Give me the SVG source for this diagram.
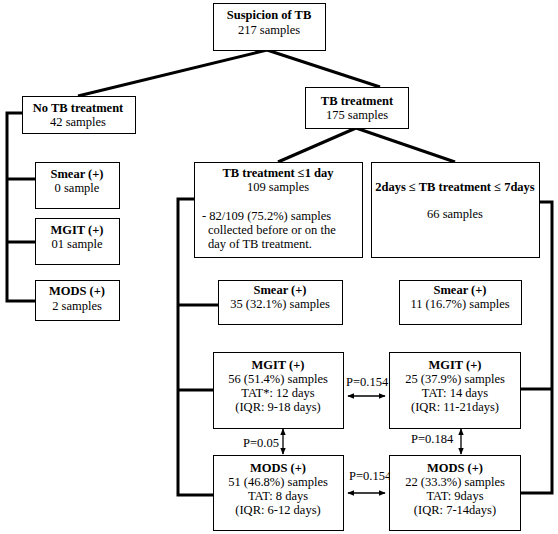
<svg xmlns="http://www.w3.org/2000/svg" width="558" height="534" viewBox="0 0 558 534" font-family="'Liberation Serif', 'Times New Roman', serif" font-size="12.5">
<defs>
<style>
.box{fill:#fff;stroke:#000;stroke-width:1}
text{font-family:'Liberation Serif','Times New Roman',serif;font-size:12.5px;fill:#000}
.c{text-anchor:middle}
.b{font-weight:bold}
.conn{stroke:#000;stroke-width:3;fill:none}
.arr{stroke:#000;stroke-width:1.3;fill:none}
</style>
<marker id="ah" viewBox="0 0 10 10" refX="9" refY="5" markerWidth="7" markerHeight="7" orient="auto-start-reverse" markerUnits="userSpaceOnUse">
<path d="M0,1 L10,5 L0,9 Z" fill="#000"/>
</marker>
</defs>
<rect width="558" height="534" fill="#fff"/>
<g id="connectors">
<path class="conn" d="M267,50 L78,96"/>
<path class="conn" d="M267,50 L380,87"/>
<path class="conn" d="M356,128 L278,162"/>
<path class="conn" d="M356,128 L455,162"/>
<path class="conn" d="M22,113 H7 V301 H35"/>
<path class="conn" d="M7,179 H35"/>
<path class="conn" d="M7,242 H35"/>
<path class="conn" d="M194,199 H178 V495 H213"/>
<path class="conn" d="M178,305 H218"/>
<path class="conn" d="M178,390 H213"/>
<path class="conn" d="M539,202 H552 V493 H520"/>
<path class="conn" d="M552,389 H520"/>
<path class="arr" d="M348,396 H385" marker-start="url(#ah)" marker-end="url(#ah)"/>
<path class="arr" d="M348,493 H385" marker-start="url(#ah)" marker-end="url(#ah)"/>
<path class="arr" d="M283,429 V454" marker-start="url(#ah)" marker-end="url(#ah)"/>
<path class="arr" d="M461,429 V454" marker-start="url(#ah)" marker-end="url(#ah)"/>
<text x="346" y="386">P=0.154</text>
<text x="349" y="480">P=0.154</text>
<text x="243" y="447">P=0.05</text>
<text x="411" y="443">P=0.184</text>
</g>
<g id="suspicion">
<rect class="box" x="213.5" y="3.5" width="112" height="47"/>
<text class="c b" x="269" y="19">Suspicion of TB</text>
<text class="c" x="269" y="34">217 samples</text>
</g>
<g id="tb-treatment">
<rect class="box" x="305.5" y="87.5" width="103" height="41"/>
<text class="c b" x="357" y="105">TB treatment</text>
<text class="c" x="357" y="119">175 samples</text>
</g>
<g id="no-tb-treatment">
<rect class="box" x="22.5" y="96.5" width="113" height="37"/>
<text class="c b" x="78" y="112">No TB treatment</text>
<text class="c" x="78" y="126">42 samples</text>
</g>
<g id="left-smear">
<rect class="box" x="35.5" y="162.5" width="84" height="46"/>
<text class="c b" x="77" y="178">Smear (+)</text>
<text class="c" x="77" y="192">0 sample</text>
</g>
<g id="left-mgit">
<rect class="box" x="35.5" y="218.5" width="84" height="46"/>
<text class="c b" x="77" y="234">MGIT (+)</text>
<text class="c" x="77" y="248">01 sample</text>
</g>
<g id="left-mods">
<rect class="box" x="35.5" y="280.5" width="84" height="40"/>
<text class="c b" x="77" y="295">MODS (+)</text>
<text class="c" x="77" y="310">2 samples</text>
</g>
<g id="tb-le1">
<rect class="box" x="194.5" y="162.5" width="168" height="95"/>
<text class="c b" x="278" y="177">TB treatment ≤1 day</text>
<text class="c" x="278" y="191">109 samples</text>
<text x="202" y="220">- 82/109 (75.2%) samples</text>
<text x="208" y="234">collected before or on the</text>
<text x="208" y="248">day of TB treatment.</text>
</g>
<g id="tb-2to7">
<rect class="box" x="371.5" y="162.5" width="168" height="95"/>
<text class="c b" x="455" y="191">2days ≤ TB treatment ≤ 7days</text>
<text class="c" x="455" y="218">66 samples</text>
</g>
<g id="smear-1">
<rect class="box" x="218.5" y="280.5" width="124" height="44"/>
<text class="c b" x="280" y="294">Smear (+)</text>
<text class="c" x="280" y="308">35 (32.1%) samples</text>
</g>
<g id="smear-2">
<rect class="box" x="399.5" y="280.5" width="122" height="44"/>
<text class="c b" x="460" y="294">Smear (+)</text>
<text class="c" x="460" y="308">11 (16.7%) samples</text>
</g>
<g id="mgit-1">
<rect class="box" x="213.5" y="352.5" width="130" height="76"/>
<text class="c b" x="278" y="369">MGIT (+)</text>
<text class="c" x="278" y="383">56 (51.4%) samples</text>
<text class="c" x="278" y="397">TAT*: 12 days</text>
<text class="c" x="278" y="411">(IQR: 9-18 days)</text>
</g>
<g id="mgit-2">
<rect class="box" x="389.5" y="352.5" width="131" height="76"/>
<text class="c b" x="455" y="369">MGIT (+)</text>
<text class="c" x="455" y="383">25 (37.9%) samples</text>
<text class="c" x="455" y="397">TAT: 14 days</text>
<text class="c" x="455" y="411">(IQR: 11-21days)</text>
</g>
<g id="mods-1">
<rect class="box" x="213.5" y="455.5" width="130" height="75"/>
<text class="c b" x="278" y="472">MODS (+)</text>
<text class="c" x="278" y="486">51 (46.8%) samples</text>
<text class="c" x="278" y="500">TAT: 8 days</text>
<text class="c" x="278" y="514">(IQR: 6-12 days)</text>
</g>
<g id="mods-2">
<rect class="box" x="389.5" y="455.5" width="131" height="75"/>
<text class="c b" x="455" y="472">MODS (+)</text>
<text class="c" x="455" y="486">22 (33.3%) samples</text>
<text class="c" x="455" y="500">TAT: 9days</text>
<text class="c" x="455" y="514">(IQR: 7-14days)</text>
</g>
</svg>
